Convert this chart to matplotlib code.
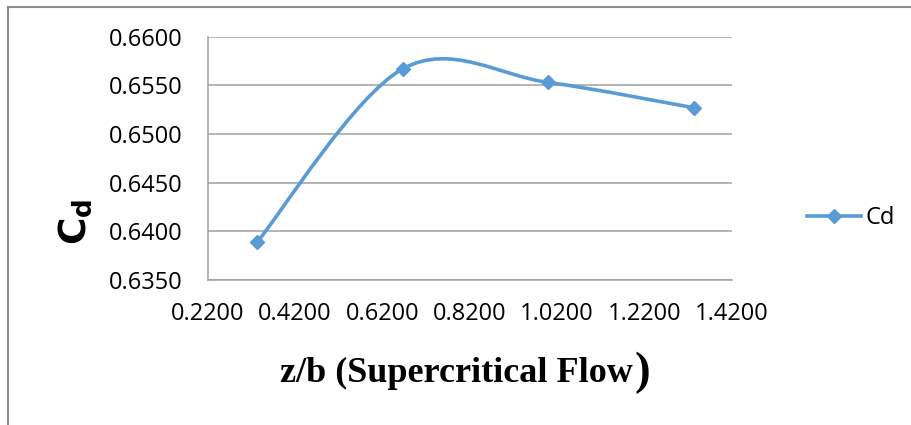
import numpy as np
import matplotlib
matplotlib.use("Agg")
from matplotlib import pyplot as plt
from matplotlib.path import Path
from matplotlib.patches import PathPatch
from matplotlib.lines import Line2D

# discharge coefficient against z/b, supercritical runs
z_b = [1 / 3, 2 / 3, 1.0, 4 / 3]
cd = [0.6389, 0.6567, 0.6553, 0.6527]

x_ticks = [0.22, 0.42, 0.62, 0.82, 1.02, 1.22, 1.42]
y_ticks = [0.635, 0.640, 0.645, 0.650, 0.655, 0.660]

blue = '#5B9BD5'
grid_grey = '#A0A0A0'


def smooth_path(xs, ys):
    # excel style smoothed line: cubic bezier through every point
    pts = np.column_stack([xs, ys])
    padded = np.vstack([pts[0], pts, pts[-1]])
    verts = [pts[0]]
    codes = [Path.MOVETO]
    for i in range(len(pts) - 1):
        p0, p1, p2, p3 = padded[i], padded[i + 1], padded[i + 2], padded[i + 3]
        c1 = p1 + (p2 - p0) / 6
        c2 = p2 - (p3 - p1) / 6
        verts += [c1, c2, p2]
        codes += [Path.CURVE4] * 3
    return Path(verts, codes)


fig = plt.figure(figsize=(9.12, 4.25), dpi=100)
ax = fig.add_axes([0.2277, 0.3412, 0.8023 - 0.2277, 0.9136 - 0.3412])

ax.add_patch(PathPatch(smooth_path(z_b, cd), fill=False, edgecolor=blue,
                       lw=2.6, capstyle='round', zorder=3))
ax.plot(z_b, cd, ls='none', marker='D', ms=7, color=blue, zorder=4)

ax.set_xlim(0.22, 1.42)
ax.set_ylim(0.635, 0.660)
ax.set_xticks(x_ticks)
ax.set_yticks(y_ticks)
ax.set_xticklabels([f'{v:.4f}' for v in x_ticks])
ax.set_yticklabels([f'{v:.4f}' for v in y_ticks])
ax.tick_params(length=0, labelsize=17, colors='black')
ax.tick_params(axis='y', pad=18)
ax.tick_params(axis='x', pad=16)
for lab in ax.get_xticklabels() + ax.get_yticklabels():
    lab.set_fontfamily('Open Sans')

ax.grid(axis='y', color=grid_grey, lw=1.1)
ax.set_axisbelow(True)
for side in ['top', 'right']:
    ax.spines[side].set_visible(False)
for side in ['left', 'bottom']:
    ax.spines[side].set_color(grid_grey)
    ax.spines[side].set_linewidth(1.1)

fig.text(0.082, 0.478, r'$\mathbf{C_d}$', rotation=90, fontsize=27,
         ha='center', va='center')

xl = fig.text(0.307, 0.101, 'z/b (Supercritical Flow', fontsize=26,
              fontfamily='Liberation Serif', fontweight='bold',
              ha='left', va='baseline')
fig.canvas.draw()
ax.annotate(')', xy=(1, 0), xycoords=xl, xytext=(1, -3),
            textcoords='offset points', fontsize=34,
            fontfamily='Liberation Serif', fontweight='bold',
            ha='left', va='bottom')

# legend entry to the right of the plot
handle = Line2D([], [], color=blue, lw=2.6, marker='D', ms=7)
fig.legend([handle], ['Cd'], loc='center left', bbox_to_anchor=(0.862, 0.487),
           frameon=False, handlelength=2.25, handletextpad=0.2,
           prop={'family': 'Open Sans', 'size': 17})

# chart frame
fig.add_artist(Line2D([0.009, 1.0], [0.983, 0.983], color='#8C8C8C', lw=1.5))
fig.add_artist(Line2D([0.009, 0.009], [0.983, 0.0], color='#8C8C8C', lw=1.5))

fig.savefig('out.png', dpi=100)
